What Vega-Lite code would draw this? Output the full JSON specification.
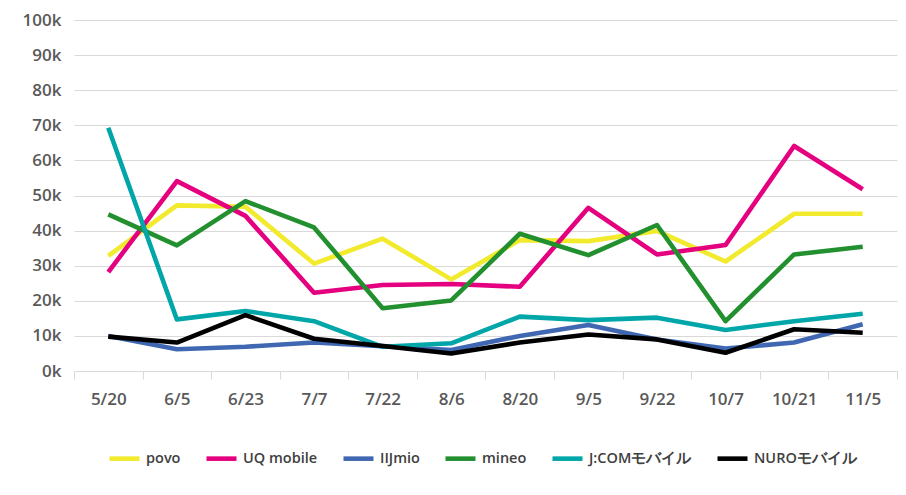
{
  "$schema": "https://vega.github.io/schema/vega-lite/v6.json",
  "width": 823,
  "height": 351,
  "autosize": {"type": "none"},
  "padding": {"left": 74, "top": 20, "right": 9, "bottom": 124},
  "background": "white",
  "config": {"view": {"stroke": null}, "font": "Open Sans"},
  "data": {
    "values": [
      {"date": "5/20", "povo": 32800, "UQ mobile": 28200, "IIJmio": 10000, "mineo": 44600, "J:COMモバイル": 69300, "NUROモバイル": 9800},
      {"date": "6/5", "povo": 47200, "UQ mobile": 54100, "IIJmio": 6200, "mineo": 35800, "J:COMモバイル": 14700, "NUROモバイル": 8100},
      {"date": "6/23", "povo": 46800, "UQ mobile": 44200, "IIJmio": 6900, "mineo": 48400, "J:COMモバイル": 17100, "NUROモバイル": 15900},
      {"date": "7/7", "povo": 30600, "UQ mobile": 22300, "IIJmio": 8100, "mineo": 40900, "J:COMモバイル": 14200, "NUROモバイル": 9200},
      {"date": "7/22", "povo": 37700, "UQ mobile": 24500, "IIJmio": 7100, "mineo": 17900, "J:COMモバイル": 6900, "NUROモバイル": 7100},
      {"date": "8/6", "povo": 26100, "UQ mobile": 24800, "IIJmio": 6000, "mineo": 20100, "J:COMモバイル": 7900, "NUROモバイル": 5000},
      {"date": "8/20", "povo": 37300, "UQ mobile": 24000, "IIJmio": 10000, "mineo": 39100, "J:COMモバイル": 15500, "NUROモバイル": 8100},
      {"date": "9/5", "povo": 37000, "UQ mobile": 46500, "IIJmio": 13100, "mineo": 33000, "J:COMモバイル": 14500, "NUROモバイル": 10400},
      {"date": "9/22", "povo": 39900, "UQ mobile": 33200, "IIJmio": 9000, "mineo": 41600, "J:COMモバイル": 15200, "NUROモバイル": 9000},
      {"date": "10/7", "povo": 31200, "UQ mobile": 35900, "IIJmio": 6400, "mineo": 14200, "J:COMモバイル": 11700, "NUROモバイル": 5200},
      {"date": "10/21", "povo": 44800, "UQ mobile": 64100, "IIJmio": 8100, "mineo": 33200, "J:COMモバイル": 14200, "NUROモバイル": 11900},
      {"date": "11/5", "povo": 44800, "UQ mobile": 51800, "IIJmio": 13300, "mineo": 35400, "J:COMモバイル": 16300, "NUROモバイル": 10900}
    ]
  },
  "transform": [
    {"fold": ["povo", "UQ mobile", "IIJmio", "mineo", "J:COMモバイル", "NUROモバイル"], "as": ["series", "value"]}
  ],
  "mark": {"type": "line", "strokeWidth": 4.6, "strokeJoin": "round", "strokeCap": "butt"},
  "encoding": {
    "x": {
      "field": "date",
      "type": "ordinal",
      "sort": null,
      "bandPosition": 0.5,
      "scale": {"type": "band", "paddingInner": 0, "paddingOuter": 0},
      "axis": {
        "title": null,
        "labelAngle": 0,
        "labelFontSize": 17,
        "labelFontWeight": 600,
        "labelColor": "#595959",
        "labelPadding": 12,
        "domainColor": "#d9d9d9",
        "tickColor": "#d9d9d9",
        "tickSize": 8,
        "tickBand": "extent",
        "grid": false
      }
    },
    "y": {
      "field": "value",
      "type": "quantitative",
      "scale": {"domain": [0, 100000], "nice": false},
      "axis": {
        "title": null,
        "values": [0, 10000, 20000, 30000, 40000, 50000, 60000, 70000, 80000, 90000, 100000],
        "labelExpr": "(datum.value / 1000) + 'k'",
        "labelFontSize": 17,
        "labelFontWeight": 600,
        "labelColor": "#595959",
        "labelPadding": 13,
        "domain": false,
        "ticks": false,
        "grid": true,
        "gridColor": "#d9d9d9",
        "gridWidth": 1
      }
    },
    "color": {
      "field": "series",
      "type": "nominal",
      "sort": ["povo", "UQ mobile", "IIJmio", "mineo", "J:COMモバイル", "NUROモバイル"],
      "scale": {
        "domain": ["povo", "UQ mobile", "IIJmio", "mineo", "J:COMモバイル", "NUROモバイル"],
        "range": ["#f2ea2c", "#e4007f", "#4068b2", "#22902f", "#00a6a8", "#000000"]
      },
      "legend": {
        "title": null,
        "orient": "none",
        "direction": "horizontal",
        "legendX": 33,
        "legendY": 421,
        "symbolType": "stroke",
        "symbolSize": 900,
        "symbolStrokeWidth": 4.6,
        "labelFontSize": 14.5,
        "labelFontWeight": 600,
        "labelColor": "#404040",
        "labelOffset": 4,
        "columnPadding": 16
      }
    }
  }
}
